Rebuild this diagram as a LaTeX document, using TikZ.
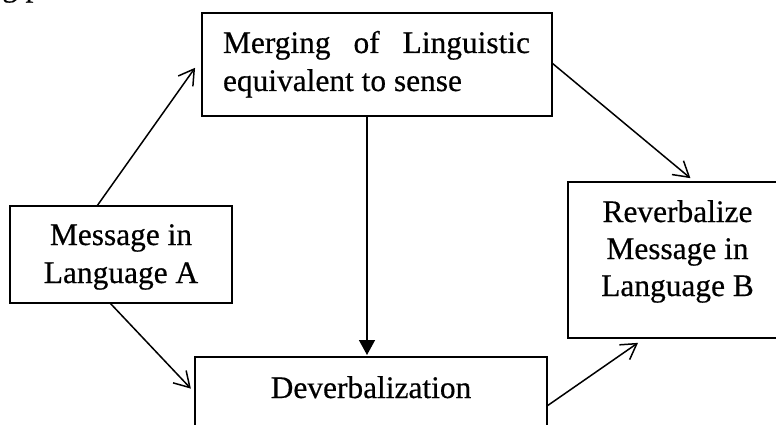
\documentclass[tikz,border=0pt]{standalone}
\usepackage{fontspec}
\setmainfont{Liberation Serif}
\newfontfamily\lblfont[FakeBold=0.5]{Liberation Serif}
\usetikzlibrary{arrows.meta}
\begin{document}
\begin{tikzpicture}[x=1pt,y=-1pt,
  box/.style={draw, line width=2.5pt, inner sep=0pt, outer sep=0pt, anchor=north west},
  lbl/.style={font=\lblfont\fontsize{31.4pt}{38pt}\selectfont, inner sep=0pt, outer sep=0pt, anchor=base},
  conn/.style={line width=1.5pt, -{Straight Barb[length=15pt,width=18pt]}},
  vconn/.style={line width=1.5pt, -{Triangle[length=15pt,width=16pt]}}]
\useasboundingbox (0,0) rectangle (776,425);
\clip (0,0) rectangle (776,425);
% boxes
\node[box, minimum width=350pt, minimum height=103pt] (merge) at (202,13) {};
\node[box, minimum width=222pt, minimum height=97pt] (msgA) at (10,206) {};
\node[box, minimum width=219pt, minimum height=156pt] (rbox) at (568,182) {};
\node[box, minimum width=352pt, minimum height=90pt] (deverb) at (195,357) {};
% texts
\node[lbl, anchor=base west] (frag) at (2,-4) {g p};
\node[lbl, anchor=base west] (m1) at (223,53) {\makebox[307pt][s]{Merging of Linguistic}};
\node[lbl, anchor=base west] (m2) at (223,91) {equivalent to sense};
\node[lbl] (a1) at (121,245) {Message in};
\node[lbl] (a2) at (121,283) {Language A};
\node[lbl] (b1) at (677.5,222) {Reverbalize};
\node[lbl] (b2) at (677.5,259) {Message in};
\node[lbl] (b3) at (677.5,296) {Language B};
\node[lbl] (d1) at (371,398) {Deverbalization};
% connectors
\draw[conn, shorten >=12pt] ([xshift=87pt]msgA.north west) -- ([yshift=-45pt]merge.north west);
\draw[conn, shorten >=6pt] ([xshift=100pt]msgA.south west) -- ([yshift=-36pt]deverb.north west);
\draw[vconn, shorten >=2pt] ([xshift=165pt]merge.south west) -- ([xshift=172pt]deverb.north west);
\draw[conn, shorten >=6pt] ([yshift=-50pt]merge.north east) -- ([xshift=127pt]rbox.north west);
\draw[conn, shorten >=8.5pt] ([yshift=-49pt]deverb.north east) -- ([xshift=77pt]rbox.south west);
\end{tikzpicture}
\end{document}
